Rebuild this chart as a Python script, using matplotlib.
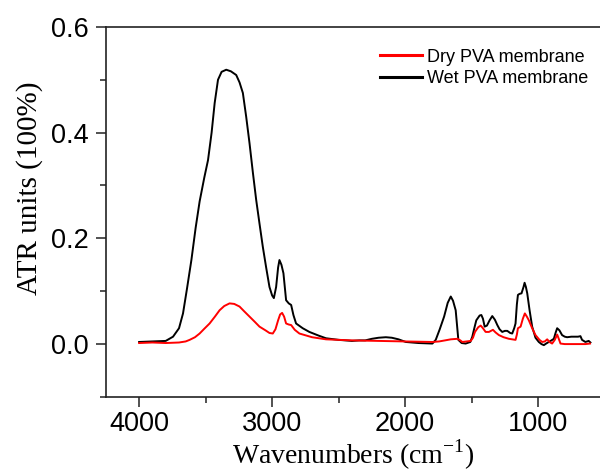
import matplotlib
matplotlib.use("Agg")
import matplotlib.pyplot as plt
from matplotlib.ticker import MultipleLocator

# FTIR-ATR spectra of PVA membranes
wet_wn = [4000, 3900, 3800, 3745, 3700, 3670, 3640, 3607, 3575, 3545, 3510, 3482,
          3455, 3432, 3407, 3380, 3345, 3310, 3270, 3245, 3220, 3195, 3170, 3145,
          3120, 3095, 3070, 3045, 3020, 3000, 2987, 2970, 2955, 2945, 2930, 2915,
          2895, 2875, 2857, 2840, 2820, 2770, 2720, 2650, 2595, 2500, 2400, 2345,
          2300, 2250, 2200, 2145, 2100, 2050, 1995, 1900, 1795, 1770, 1740, 1707,
          1680, 1657, 1640, 1620, 1600, 1575, 1545, 1510, 1495, 1480, 1465, 1440,
          1427, 1415, 1402, 1385, 1365, 1345, 1325, 1307, 1290, 1270, 1250, 1232,
          1210, 1195, 1180, 1170, 1160, 1152, 1140, 1125, 1110, 1102, 1092, 1082,
          1065, 1045, 1020, 995, 975, 957, 940, 920, 900, 882, 868, 857, 840, 820,
          800, 782, 750, 720, 700, 682, 670, 645, 620, 607]
wet_abs = [0.004, 0.005, 0.006, 0.014, 0.030, 0.058, 0.105, 0.159, 0.220, 0.270,
           0.315, 0.348, 0.400, 0.456, 0.500, 0.515, 0.519, 0.516, 0.509, 0.495,
           0.475, 0.430, 0.380, 0.325, 0.273, 0.228, 0.184, 0.145, 0.108, 0.092,
           0.087, 0.108, 0.145, 0.159, 0.150, 0.134, 0.083, 0.077, 0.074, 0.055,
           0.039, 0.030, 0.023, 0.016, 0.011, 0.008, 0.006, 0.007, 0.007, 0.010,
           0.012, 0.013, 0.012, 0.009, 0.004, 0.002, 0.001, 0.008, 0.028, 0.052,
           0.078, 0.090, 0.082, 0.064, 0.008, 0.002, 0.001, 0.004, 0.014, 0.030,
           0.045, 0.054, 0.055, 0.048, 0.033, 0.035, 0.045, 0.053, 0.046, 0.036,
           0.028, 0.023, 0.025, 0.025, 0.021, 0.020, 0.030, 0.039, 0.075, 0.093,
           0.095, 0.096, 0.108, 0.116, 0.108, 0.096, 0.065, 0.033, 0.012, 0.004,
           0.000, -0.002, 0.001, 0.004, 0.007, 0.010, 0.022, 0.030, 0.026, 0.017,
           0.014, 0.013, 0.014, 0.014, 0.014, 0.015, 0.008, 0.004, 0.006, 0.003]

dry_wn = [4000, 3900, 3800, 3700, 3650, 3620, 3580, 3545, 3510, 3470, 3430, 3395,
          3360, 3320, 3285, 3245, 3210, 3170, 3130, 3095, 3050, 3020, 2995, 2975,
          2955, 2940, 2925, 2910, 2895, 2875, 2857, 2830, 2795, 2700, 2595, 2500,
          2395, 2200, 2000, 1795, 1745, 1700, 1657, 1607, 1585, 1570, 1507, 1490,
          1475, 1450, 1432, 1415, 1395, 1370, 1340, 1320, 1295, 1260, 1220, 1170,
          1160, 1152, 1132, 1115, 1100, 1085, 1070, 1045, 1020, 990, 970, 950, 932,
          915, 895, 875, 857, 845, 832, 800, 700, 645, 610]
dry_abs = [0.002, 0.003, 0.002, 0.003, 0.005, 0.008, 0.013, 0.020, 0.029, 0.039,
           0.052, 0.064, 0.072, 0.077, 0.076, 0.071, 0.062, 0.052, 0.042, 0.033,
           0.026, 0.021, 0.020, 0.028, 0.045, 0.056, 0.059, 0.052, 0.039, 0.037,
           0.036, 0.027, 0.020, 0.013, 0.009, 0.008, 0.007, 0.006, 0.005, 0.004,
           0.005, 0.007, 0.009, 0.010, 0.007, 0.004, 0.006, 0.012, 0.023, 0.032,
           0.035, 0.030, 0.023, 0.023, 0.027, 0.022, 0.017, 0.013, 0.010, 0.008,
           0.018, 0.030, 0.033, 0.048, 0.058, 0.052, 0.045, 0.030, 0.017, 0.008,
           0.004, 0.005, 0.009, 0.004, 0.001, 0.008, 0.018, 0.010, 0.001, 0.000,
           0.000, 0.000, 0.001]

x_ticks = [4000, 3000, 2000, 1000]
y_ticks = [0.0, 0.2, 0.4, 0.6]

fig = plt.figure(figsize=(6.0, 4.72), dpi=100)
ax = fig.add_axes([0.176, 0.159, 0.824, 0.784])

ax.plot(dry_wn, dry_abs, color="#ff0000", lw=1.4, label="Dry PVA membrane", zorder=3)
ax.plot(wet_wn, wet_abs, color="black", lw=1.4, label="Wet PVA membrane", zorder=2)

ax.set_xlim(4252, 535)
ax.set_ylim(-0.1, 0.6)
ax.set_xticks(x_ticks)
ax.set_yticks(y_ticks)
ax.xaxis.set_minor_locator(MultipleLocator(500))
ax.yaxis.set_minor_locator(MultipleLocator(0.1))
ax.set_xticklabels([str(t) for t in x_ticks])
ax.set_yticklabels([f"{t:.1f}" for t in y_ticks])

for s in ("left", "top", "bottom"):
    ax.spines[s].set_linewidth(1.2)
    ax.spines[s].set_color("#222222")
ax.spines["right"].set_visible(False)

ax.tick_params(which="major", direction="out", length=7, width=1.1,
               labelsize=19.5, pad=5, colors="#222222")
ax.tick_params(axis="x", which="major", pad=3)
ax.tick_params(which="minor", direction="out", length=4.5, width=1.1, colors="#222222")
for lab in ax.get_xticklabels() + ax.get_yticklabels():
    lab.set_fontfamily("Liberation Sans")
    lab.set_color("black")

ax.set_xlabel("Wavenumbers (cm$^{\\mathregular{-1}}$)", fontsize=20,
              fontfamily="Liberation Serif")
ax.set_ylabel("ATR units (100%)", fontsize=21, fontfamily="Liberation Serif")
ax.xaxis.set_label_coords(0.5, -0.11)
ax.yaxis.set_label_coords(-0.127, 0.565)

leg = ax.legend(loc="upper left", bbox_to_anchor=(0.555, 0.941), frameon=False,
                prop={"family": "Liberation Sans", "size": 13},
                handlelength=2.3, handletextpad=0.3, labelspacing=0.25,
                borderpad=0, borderaxespad=0)
for h in leg.get_lines():
    h.set_linewidth(2.2)

fig.savefig("out.png", dpi=100)
